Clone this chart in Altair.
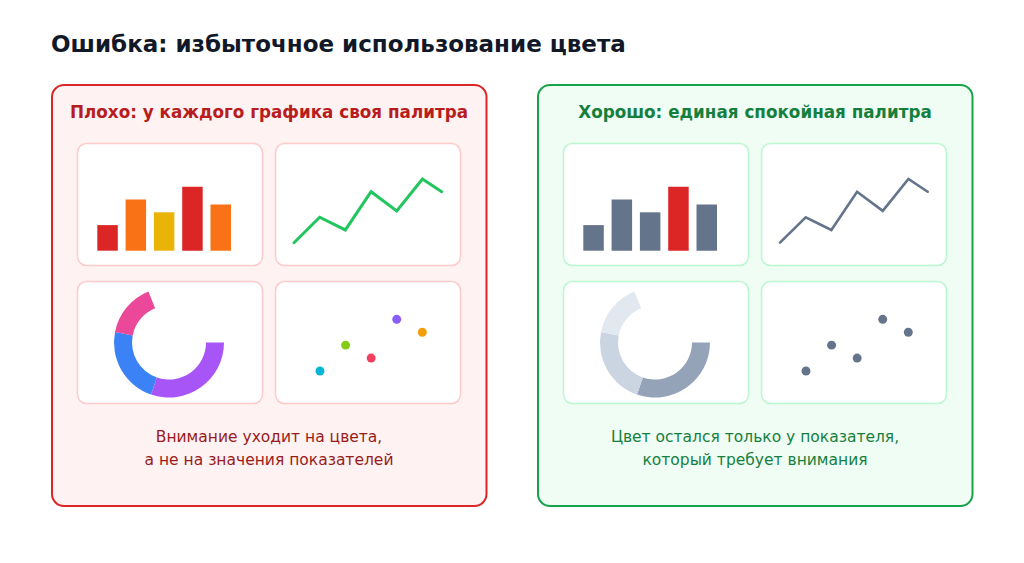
import math
import altair as alt
import pandas as pd

# ---------------- data ----------------
bar_cats = ["А", "Б", "В", "Г", "Д"]
bar_values = [2, 4, 3, 5, 3.6]

line_x = [0, 1, 2, 3, 4, 5, 5.75]
line_y = [1, 3, 2, 5, 3.5, 6, 5]

donut_parts = ["Сегмент 1", "Сегмент 2", "Сегмент 3"]
donut_values = [44, 33, 23]
donut_order = [0, 1, 2]

scatter_ids = ["p1", "p2", "p3", "p4", "p5"]
scatter_x = [1, 2, 3, 4, 5]
scatter_y = [1, 3, 2, 5, 4]

title_text = "Ошибка: избыточное использование цвета"
bad_title = "Плохо: у каждого графика своя палитра"
good_title = "Хорошо: единая спокойная палитра"
bad_caption = ["Внимание уходит на цвета,", "а не на значения показателей"]
good_caption = ["Цвет остался только у показателя,", "который требует внимания"]

# ---------------- palettes ----------------
bad_bar_colors = ["#dc2626", "#f97316", "#eab308", "#dc2626", "#f97316"]
good_bar_colors = ["#64748b", "#64748b", "#64748b", "#dc2626", "#64748b"]
bad_donut_colors = ["#a855f7", "#3b82f6", "#ec4899"]
good_donut_colors = ["#94a3b8", "#cbd5e1", "#e2e8f0"]
bad_dot_colors = ["#06b6d4", "#84cc16", "#f43f5e", "#8b5cf6", "#f59e0b"]
good_dot_colors = ["#64748b", "#64748b", "#64748b", "#64748b", "#64748b"]

FONT = "DejaVu Sans"
M = 8  # page margin


def px(v):
    return v - M


blank = alt.Data(values=[{}])
bar_df = pd.DataFrame({"cat": bar_cats, "value": bar_values})
line_df = pd.DataFrame({"x": line_x, "y": line_y})
donut_df = pd.DataFrame({"part": donut_parts, "value": donut_values, "order": donut_order})
dot_df = pd.DataFrame({"id": scatter_ids, "x": scatter_x, "y": scatter_y})


def box(x1, y1, x2, y2, fill, stroke, sw, r):
    return alt.Chart(blank).mark_rect(
        fill=fill, stroke=stroke, strokeWidth=sw, cornerRadius=r
    ).encode(x=alt.value(px(x1)), x2=alt.value(px(x2)), y=alt.value(px(y1)), y2=alt.value(px(y2)))


def label(text, x, y, size, color, weight="normal", align="center"):
    return alt.Chart(blank).mark_text(
        text=text, font=FONT, fontSize=size, fontWeight=weight, color=color,
        align=align, baseline="alphabetic"
    ).encode(x=alt.value(px(x)), y=alt.value(px(y)))


def bars(dx, colors):
    return alt.Chart(bar_df).mark_bar().encode(
        x=alt.X("cat:N", sort=None, axis=None,
                scale=alt.Scale(type="band", domain=bar_cats, range=[px(97.3 + dx), px(231 + dx)],
                                paddingInner=0.276, paddingOuter=0)),
        y=alt.Y("value:Q", axis=None,
                scale=alt.Scale(domain=[0, 5], range=[px(250.7), px(186.7)], nice=False)),
        color=alt.Color("cat:N", scale=alt.Scale(domain=bar_cats, range=colors), legend=None),
    )


def line(dx, color, w):
    return alt.Chart(line_df).mark_line(color=color, strokeWidth=w, strokeCap="round").encode(
        x=alt.X("x:Q", axis=None,
                scale=alt.Scale(domain=[0, 5.75], range=[px(294 + dx), px(441.7 + dx)], nice=False, zero=False)),
        y=alt.Y("y:Q", axis=None,
                scale=alt.Scale(domain=[1, 6], range=[px(242.7), px(179)], nice=False, zero=False)),
    )


def donut(dx, colors):
    return alt.Chart(donut_df).mark_arc(innerRadius=37, outerRadius=55).encode(
        theta=alt.Theta("value:Q", stack=True,
                        scale=alt.Scale(domain=[0, 100], range=[math.pi / 2, math.pi / 2 + math.radians(248)])),
        color=alt.Color("part:N", scale=alt.Scale(domain=donut_parts, range=colors), legend=None),
        order=alt.Order("order:Q"),
        x=alt.value(px(169 + dx)),
        y=alt.value(px(342.5)),
    )


def dots(dx, colors):
    return alt.Chart(dot_df).mark_circle(size=80, opacity=1).encode(
        x=alt.X("x:Q", axis=None,
                scale=alt.Scale(domain=[1, 5], range=[px(320 + dx), px(422.3 + dx)], nice=False, zero=False)),
        y=alt.Y("y:Q", axis=None,
                scale=alt.Scale(domain=[1, 5], range=[px(371), px(319.3)], nice=False, zero=False)),
        color=alt.Color("id:N", scale=alt.Scale(domain=scatter_ids, range=colors), legend=None),
    )


def panel(dx, fill, stroke, card_stroke, header, header_color, caption, caption_color,
          bar_colors, line_color, line_w, donut_colors, dot_colors):
    cx = 269 + dx
    layers = [
        box(52 + dx, 85, 486.5 + dx, 506, fill, stroke, 2, 12),
        box(77.5 + dx, 143.5, 262.5 + dx, 265.5, "#ffffff", card_stroke, 1.5, 9),
        box(275.5 + dx, 143.5, 460.5 + dx, 265.5, "#ffffff", card_stroke, 1.5, 9),
        box(77.5 + dx, 281.5, 262.5 + dx, 403.5, "#ffffff", card_stroke, 1.5, 9),
        box(275.5 + dx, 281.5, 460.5 + dx, 403.5, "#ffffff", card_stroke, 1.5, 9),
        bars(dx, bar_colors),
        line(dx, line_color, line_w),
        donut(dx, donut_colors),
        dots(dx, dot_colors),
        label(header, cx, 118, 16.8, header_color, "bold"),
        label(caption[0], cx, 442.3, 15.5, caption_color),
        label(caption[1], cx, 465, 15.5, caption_color),
    ]
    return layers


layers = [label(title_text, 51, 52, 23, "#111827", "bold", "left")]
layers += panel(0, "#fef2f2", "#dc2626", "#fecaca", bad_title, "#b91c1c", bad_caption, "#991b1b",
                bad_bar_colors, "#22c55e", 3, bad_donut_colors, bad_dot_colors)
layers += panel(486, "#f0fdf4", "#16a34a", "#bbf7d0", good_title, "#15803d", good_caption, "#15803d",
                good_bar_colors, "#64748b", 2.6, good_donut_colors, good_dot_colors)

chart = alt.layer(*layers).resolve_scale(
    x="independent", y="independent", color="independent", theta="independent"
).properties(
    width=1008, height=547, autosize=alt.AutoSizeParams(type="none"), padding=0,
    background="#ffffff",
).configure(
    font=FONT,
    style={"cell": {"stroke": "transparent", "strokeWidth": 0}},
).configure_view(
    stroke="transparent", strokeWidth=0, strokeOpacity=0
)

chart.save("out.html", embed_options={"renderer": "svg", "actions": False})
